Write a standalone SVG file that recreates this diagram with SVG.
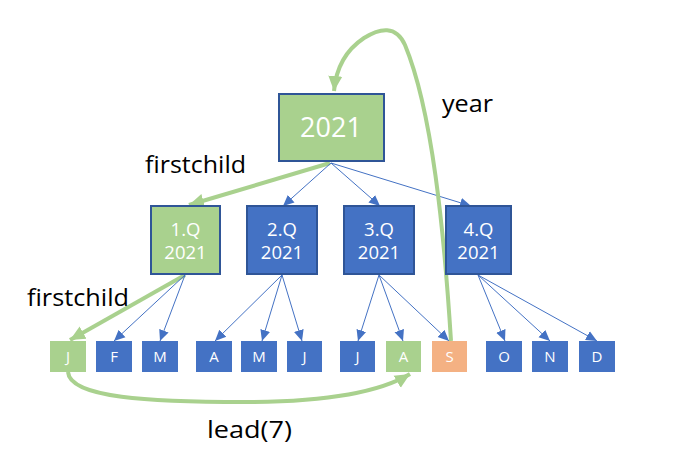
<svg xmlns="http://www.w3.org/2000/svg" width="675" height="466" viewBox="0 0 675 466">
<style>
.g{fill:#A9D18E}
.b{fill:#4472C4}
.o{fill:#F4B183}
.bs{stroke:#2F5597;stroke-width:2}
.wt{fill:#fff;font-family:"Open Sans","Liberation Sans",sans-serif;text-anchor:middle}
.q{font-size:18.5px}
.m{font-size:15px}
.lbl{fill:#000;font-family:"Open Sans","Liberation Sans",sans-serif;font-size:23px}
.bl{stroke:#4472C4;stroke-width:1;fill:none;marker-end:url(#ab)}
.gl{stroke:#A9D18E;stroke-width:4;fill:none;marker-end:url(#ag)}
</style>
<defs>
<marker id="ab" markerUnits="userSpaceOnUse" markerWidth="12" markerHeight="12" viewBox="0 0 12 12" refX="11" refY="6" orient="auto">
<path d="M0,1 L11,6 L0,11 Z" fill="#4472C4"/>
</marker>
<marker id="ag" markerUnits="userSpaceOnUse" markerWidth="16" markerHeight="16" viewBox="0 0 16 16" refX="15" refY="8" orient="auto">
<path d="M0,1 L15,8 L0,15 Z" fill="#A9D18E"/>
</marker>
</defs>
<g id="connectors">
<path class="gl" d="M330,163 L189,205"/>
<path class="bl" d="M331,163 L283,206"/>
<path class="bl" d="M331,163 L380,206"/>
<path class="bl" d="M331,163 L471,206"/>
<path class="gl" d="M185,275 L70,340"/>
<path class="bl" d="M185,275 L114,341"/>
<path class="bl" d="M185,275 L160,341"/>
<path class="bl" d="M282,275 L215,341"/>
<path class="bl" d="M282,275 L262,341"/>
<path class="bl" d="M282,275 L302,341"/>
<path class="bl" d="M379,275 L358,341"/>
<path class="bl" d="M379,275 L403,341"/>
<path class="bl" d="M379,275 L449,341"/>
<path class="bl" d="M478,275 L505,341"/>
<path class="bl" d="M478,275 L550,341"/>
<path class="bl" d="M478,275 L597,341"/>
<path class="gl" d="M451,341 C444,230 432,110 405,45 C396,25 380,28 364,38 C346,50 336,68 334,91"/>
<path class="gl" d="M68,372 C70,398 150,402 245,402 C330,402 380,392 410,374"/>
</g>
<g id="n2021"><rect x="279" y="94" width="105" height="67" class="g bs"/><text x="331" y="137" class="wt" font-size="27">2021</text></g>
<g id="q1"><rect x="151" y="206" width="69" height="68" class="g bs"/><text x="185.5" y="236" class="wt q">1.Q</text><text x="185.5" y="259" class="wt q">2021</text></g>
<g id="q2"><rect x="247" y="206" width="70" height="68" class="b bs"/><text x="282" y="236" class="wt q">2.Q</text><text x="282" y="259" class="wt q">2021</text></g>
<g id="q3"><rect x="344" y="206" width="70" height="68" class="b bs"/><text x="379" y="236" class="wt q">3.Q</text><text x="379" y="259" class="wt q">2021</text></g>
<g id="q4"><rect x="446" y="206" width="65" height="68" class="b bs"/><text x="478.5" y="236" class="wt q">4.Q</text><text x="478.5" y="259" class="wt q">2021</text></g>
<g id="mJ1"><rect x="50" y="341" width="36" height="31" class="g"/><text x="68" y="362" class="wt m">J</text></g>
<g id="mF"><rect x="96" y="341" width="36" height="31" class="b"/><text x="114" y="362" class="wt m">F</text></g>
<g id="mM1"><rect x="142" y="341" width="36" height="31" class="b"/><text x="160" y="362" class="wt m">M</text></g>
<g id="mA1"><rect x="196" y="341" width="36" height="31" class="b"/><text x="214" y="362" class="wt m">A</text></g>
<g id="mM2"><rect x="241" y="341" width="36" height="31" class="b"/><text x="259" y="362" class="wt m">M</text></g>
<g id="mJ2"><rect x="287" y="341" width="35" height="31" class="b"/><text x="304.5" y="362" class="wt m">J</text></g>
<g id="mJ3"><rect x="340" y="341" width="35" height="31" class="b"/><text x="357.5" y="362" class="wt m">J</text></g>
<g id="mA2"><rect x="386" y="341" width="35" height="31" class="g"/><text x="403.5" y="362" class="wt m">A</text></g>
<g id="mS"><rect x="432" y="341" width="35" height="31" class="o"/><text x="449.5" y="362" class="wt m">S</text></g>
<g id="mO"><rect x="486" y="341" width="36" height="31" class="b"/><text x="504" y="362" class="wt m">O</text></g>
<g id="mN"><rect x="532" y="341" width="36" height="31" class="b"/><text x="550" y="362" class="wt m">N</text></g>
<g id="mD"><rect x="579" y="341" width="36" height="31" class="b"/><text x="597" y="362" class="wt m">D</text></g>
<g id="labels">
<text x="145" y="173" class="lbl" textLength="101" lengthAdjust="spacingAndGlyphs">firstchild</text>
<text x="27" y="306" class="lbl" textLength="102" lengthAdjust="spacingAndGlyphs">firstchild</text>
<text x="442" y="112" class="lbl" textLength="51" lengthAdjust="spacingAndGlyphs">year</text>
<text x="207" y="438" class="lbl" textLength="85" lengthAdjust="spacingAndGlyphs">lead(7)</text>
</g>
</svg>
